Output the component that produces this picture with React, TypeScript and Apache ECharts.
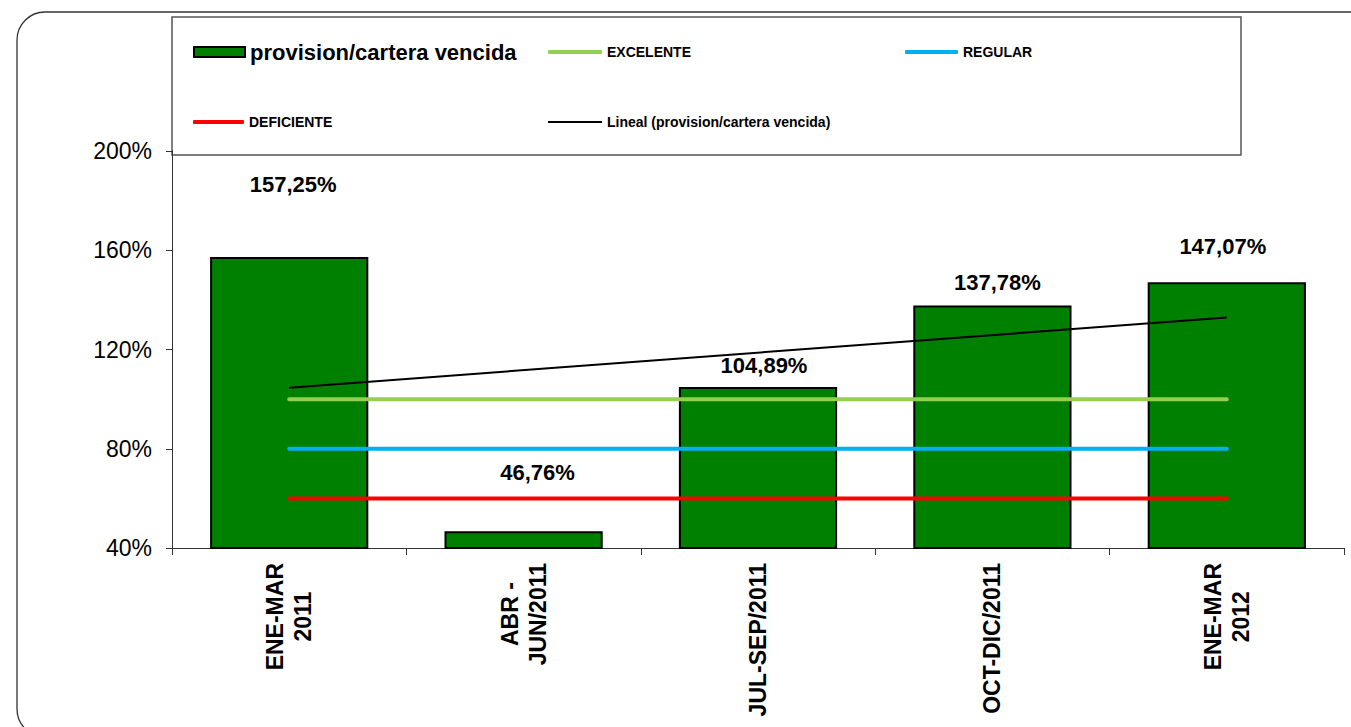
import React, { useEffect, useRef } from "react";
import * as echarts from "echarts";

const categories = ["ENE-MAR\n2011", "ABR -\nJUN/2011", "JUL-SEP/2011", "OCT-DIC/2011", "ENE-MAR\n2012"];
const provision = [157.25, 46.76, 104.89, 137.78, 147.07];
const excelente = [100, 100, 100, 100, 100];
const regular = [80, 80, 80, 80, 80];
const deficiente = [60, 60, 60, 60, 60];
// linear trend read at first and last category
const lineal = [104.6, null, null, null, 132.9];
const yTicks = { min: 40, max: 200, interval: 40 };

// label placement tweaks (pixels) to mimic the original
const labelDx = [4, 14, 6, 5, -4];
const labelLift = [62, 48, 10, 12, 25];

const FONT = "'Liberation Sans', Arial, sans-serif";

export default function App() {
  const ref = useRef<HTMLDivElement>(null);
  useEffect(() => {
    if (!ref.current) return;
    const chart = echarts.init(ref.current, undefined, { renderer: "svg" });
    const legendText = (size: number) => ({
      fontSize: size,
      fontWeight: "bold" as const,
      color: "#000",
      fontFamily: FONT,
      lineHeight: 24,
    });
    const legendBase = { orient: "horizontal" as const, padding: 0, selectedMode: false, itemGap: 0 };
    chart.setOption({
      animation: false,
      backgroundColor: "#fff",
      textStyle: { fontFamily: FONT },
      grid: { left: 172, right: 7, top: 151, bottom: 179, containLabel: false },
      legend: [
        {
          ...legendBase,
          data: ["provision/cartera vencida"],
          left: 193,
          top: 40,
          itemWidth: 51,
          itemHeight: 10,
          icon: "rect",
          itemStyle: { borderColor: "#000", borderWidth: 2 },
          textStyle: legendText(22),
        },
        { ...legendBase, data: ["EXCELENTE"], left: 548, top: 40, itemWidth: 54, itemHeight: 4, icon: "roundRect", textStyle: legendText(14) },
        { ...legendBase, data: ["REGULAR"], left: 905, top: 40, itemWidth: 53, itemHeight: 4, icon: "roundRect", textStyle: legendText(14) },
        { ...legendBase, data: ["DEFICIENTE"], left: 193, top: 110, itemWidth: 51, itemHeight: 4, icon: "roundRect", textStyle: legendText(14) },
        { ...legendBase, data: ["Lineal (provision/cartera vencida)"], left: 548, top: 110, itemWidth: 54, itemHeight: 2, icon: "rect", textStyle: legendText(14) },
      ],
      xAxis: {
        type: "category",
        data: categories,
        boundaryGap: true,
        axisLine: { show: true, lineStyle: { color: "#333", width: 1 } },
        axisTick: { show: true, length: 7, lineStyle: { color: "#333" } },
        axisLabel: {
          interval: 0,
          rotate: 90,
          margin: 15,
          formatter: (v: string) => v.split("\n").map((s) => `{c|${s}}`).join("\n"),
          rich: {
            c: { fontSize: 23, fontWeight: "bold", color: "#000", align: "center", lineHeight: 28, fontFamily: FONT },
          },
        },
        splitLine: { show: false },
      },
      yAxis: {
        type: "value",
        min: yTicks.min,
        max: yTicks.max,
        interval: yTicks.interval,
        axisLine: { show: true, lineStyle: { color: "#333", width: 1 } },
        axisTick: { show: true, length: 6, lineStyle: { color: "#333" } },
        axisLabel: { formatter: "{value}%", fontSize: 23, color: "#000", margin: 20, fontFamily: FONT },
        splitLine: { show: false },
      },
      series: [
        {
          name: "provision/cartera vencida",
          type: "bar",
          barWidth: "67.5%",
          data: provision.map((v, i) => ({
            value: v,
            label: { offset: [labelDx[i], -labelLift[i]] },
          })),
          itemStyle: { color: "#008000", borderColor: "#000", borderWidth: 2 },
          label: {
            show: true,
            position: "top",
            distance: 0,
            fontSize: 22,
            fontWeight: "bold",
            color: "#000",
            fontFamily: FONT,
            formatter: (p: any) => p.value.toFixed(2).replace(".", ",") + "%",
          },
          z: 2,
        },
        {
          name: "EXCELENTE",
          type: "line",
          data: excelente,
          symbol: "none",
          lineStyle: { color: "#92D050", width: 4, cap: "round" },
          itemStyle: { color: "#92D050" },
          z: 3,
        },
        {
          name: "REGULAR",
          type: "line",
          data: regular,
          symbol: "none",
          lineStyle: { color: "#00B0F0", width: 4, cap: "round" },
          itemStyle: { color: "#00B0F0" },
          z: 3,
        },
        {
          name: "DEFICIENTE",
          type: "line",
          data: deficiente,
          symbol: "none",
          lineStyle: { color: "#FF0000", width: 4, cap: "round" },
          itemStyle: { color: "#FF0000" },
          z: 3,
        },
        {
          name: "Lineal (provision/cartera vencida)",
          type: "line",
          data: lineal,
          connectNulls: true,
          symbol: "none",
          lineStyle: { color: "#000", width: 2 },
          itemStyle: { color: "#000" },
          z: 4,
        },
      ],
      graphic: [
        {
          type: "rect",
          silent: true,
          shape: { x: 172, y: 17, width: 1069, height: 138 },
          style: { fill: "#fff", stroke: "#555", lineWidth: 1.5 },
          z: 0,
        },
        {
          type: "rect",
          silent: true,
          shape: { x: 17, y: 12, width: 1370, height: 725, r: 28 },
          style: { fill: "none", stroke: "#333", lineWidth: 1.3 },
          z: 100,
        },
      ],
    });
    return () => chart.dispose();
  }, []);
  return (
    <div
      ref={ref}
      style={{ position: "absolute", left: 0, top: 0, width: 1351, height: 727, background: "#fff" }}
    />
  );
}
